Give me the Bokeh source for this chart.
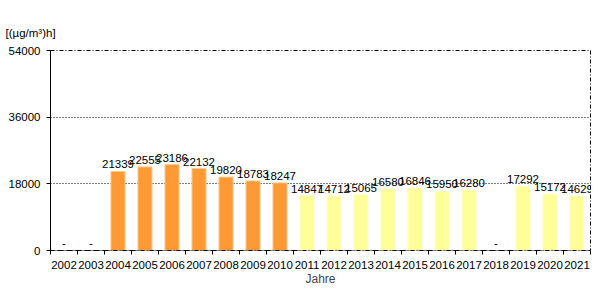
from bokeh.plotting import figure
from bokeh.models import ColumnDataSource, FixedTicker, Range1d
from bokeh.embed import file_html
from bokeh.resources import INLINE

years = [2002, 2003, 2004, 2005, 2006, 2007, 2008, 2009, 2010, 2011,
         2012, 2013, 2014, 2015, 2016, 2017, 2018, 2019, 2020, 2021]
values = [None, None, 21339, 22555, 23186, 22132, 19820, 18783, 18247, 14847,
          14712, 15065, 16580, 16846, 15950, 16280, None, 17292, 15172, 14629]
y_ticks = [0, 18000, 36000, 54000]
unit_label = "[(µg/m³)h]"
x_title = "Jahre"

ORANGE = "#FF9933"
YELLOW = "#FFFF99"
FONT = "Liberation Sans"

bx, btop, bcol, bline = [], [], [], []
for y, v in zip(years, values):
    if v is None:
        continue
    bx.append(y)
    btop.append(v)
    bcol.append(ORANGE if y <= 2010 else YELLOW)
    bline.append("#FFC98F" if y <= 2010 else "#FFFFC8")
bars = ColumnDataSource(dict(x=bx, top=btop, color=bcol, line=bline))

vals = ColumnDataSource(dict(
    x=[y for y, v in zip(years, values) if v is not None],
    y=[v for v in values if v is not None],
    t=[str(v) for v in values if v is not None]))
missing = ColumnDataSource(dict(
    x=[y for y, v in zip(years, values) if v is None],
    y=[0 for v in values if v is None],
    t=["-" for v in values if v is None]))

p = figure(width=600, height=300, output_backend="svg", toolbar_location=None,
           x_range=Range1d(years[0] - 0.5, years[-1] + 0.5),
           y_range=Range1d(0, 54000),
           min_border_left=50, min_border_right=10, min_border_top=50,
           min_border_bottom=50, title=unit_label)
p.background_fill_color = "white"
p.border_fill_color = "white"
p.outline_line_color = "black"
p.outline_line_dash = "4 2 1 2"
p.outline_line_width = 1

p.title.align = "left"
p.title.offset = -45
p.title.text_font = FONT
p.title.text_font_size = "11.5px"
p.title.text_font_style = "normal"
p.title.text_color = "black"
p.title.standoff = 24

p.vbar(x="x", top="top", width=0.52, bottom=0, source=bars,
       fill_color="color", line_color="line", line_width=1)

p.text(x="x", y="y", text="t", source=vals, text_align="center",
       text_baseline="bottom", y_offset=-3, text_font_size="11.5px",
       text_font={"value": FONT}, text_color="black")
p.text(x="x", y="y", text="t", source=missing, text_align="center",
       text_baseline="bottom", y_offset=-4, text_font_size="11.5px",
       text_font={"value": FONT}, text_color="black")

# grid
p.xgrid.visible = False
p.ygrid.ticker = FixedTicker(ticks=[18000, 36000])
p.ygrid.grid_line_color = "black"
p.ygrid.grid_line_dash = "1 2"
p.ygrid.grid_line_width = 1

# y axis
ya = p.yaxis[0]
ya.ticker = FixedTicker(ticks=y_ticks)
ya.major_label_overrides = {t: str(t) for t in y_ticks}
ya.major_tick_out = 4
ya.major_tick_in = 0
ya.minor_tick_out = 0
ya.minor_tick_in = 0
ya.axis_line_color = "black"
ya.major_label_text_font = FONT
ya.major_label_text_font_size = "11.5px"
ya.major_label_text_color = "black"
ya.major_label_standoff = 6

# x axis
xa = p.xaxis[0]
xa.ticker = FixedTicker(ticks=years,
                        minor_ticks=[y - 0.5 for y in years] + [years[-1] + 0.5])
xa.major_label_overrides = {y: str(y) for y in years}
xa.major_tick_out = 0
xa.major_tick_in = 0
xa.minor_tick_out = 4
xa.minor_tick_in = 0
xa.axis_line_dash = "4 2 1 2"
xa.axis_line_color = "black"
xa.major_label_text_font = FONT
xa.major_label_text_font_size = "11.5px"
xa.major_label_text_color = "black"
xa.major_label_standoff = 6
xa.axis_label = x_title
xa.axis_label_text_font = FONT
xa.axis_label_text_font_style = "normal"
xa.axis_label_text_font_size = "12px"
xa.axis_label_standoff = 0

open("out.html", "w").write(file_html(p, INLINE))
